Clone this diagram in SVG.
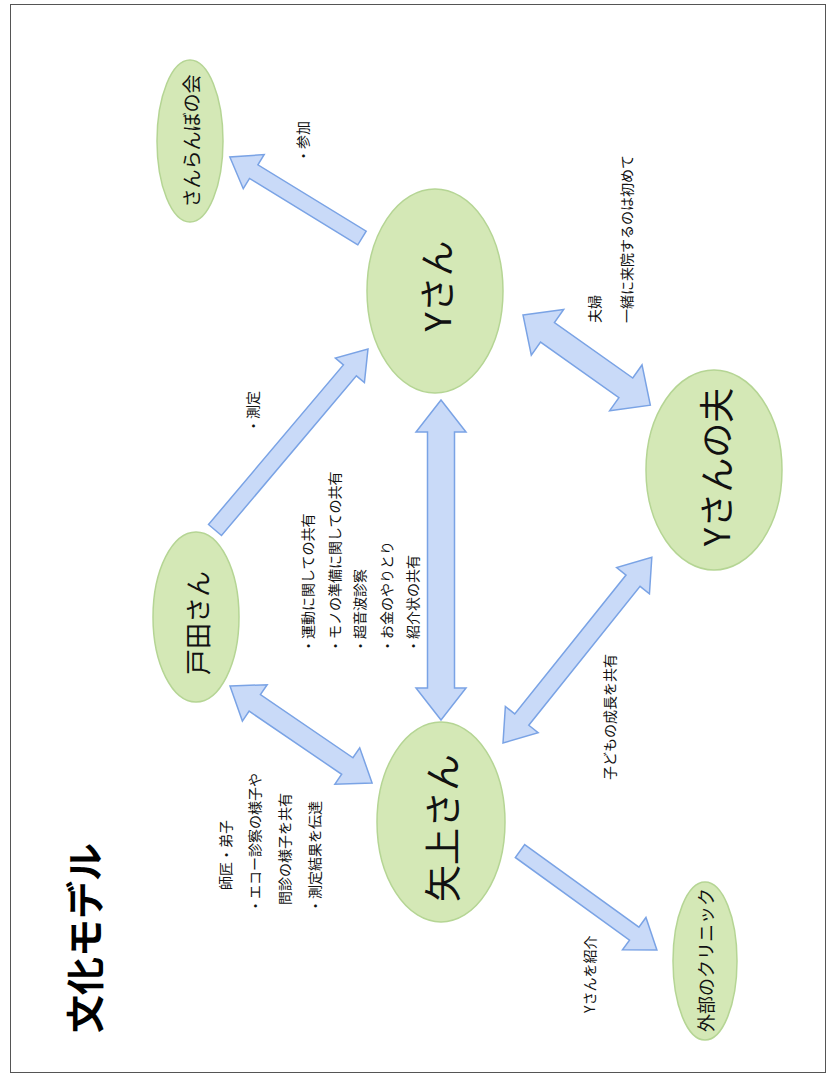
<svg xmlns="http://www.w3.org/2000/svg" width="830" height="1077" viewBox="0 0 830 1077">
  <style>
    .node ellipse { fill: #d4e8b6; stroke: #b5d594; stroke-width: 1.5; }
    .node text { font-family: "Noto Sans CJK JP", "Noto Sans", sans-serif; fill: #111; text-anchor: middle; dominant-baseline: central; }
    .arrow { fill: #c9daf8; stroke: #7aa3e5; stroke-width: 1.5; stroke-linejoin: miter; }
    .lbl { font-family: "Noto Sans CJK JP", "Noto Sans", sans-serif; font-size: 14px; fill: #111; }
    .title { font-family: "Noto Sans CJK JP", sans-serif; font-size: 38px; font-weight: bold; fill: #000; text-anchor: middle; dominant-baseline: central; }
  </style>

  <rect x="0" y="0" width="830" height="1077" fill="#ffffff"/>
  <rect x="10.5" y="4.5" width="815" height="1068" fill="none" stroke="#555" stroke-width="1"/>

  <!-- page title -->
  <text class="title" transform="translate(82,938) rotate(-90)">文化モデル</text>

  <!-- block arrows -->
  <g id="connectors">
    <!-- Yさん -> さんらんぼの会 -->
    <polygon class="arrow" transform="translate(362,238) rotate(211.5)" points="0,-8 127,-8 127,-20 155,0 127,20 127,8 0,8"/>
    <!-- 戸田さん -> Yさん -->
    <polygon class="arrow" transform="translate(215,530) rotate(-49.8)" points="0,-8.5 209,-8.5 209,-19 237,0 209,19 209,8.5 0,8.5"/>
    <!-- Yさん <-> 矢上さん -->
    <polygon class="arrow" transform="translate(441,400) rotate(90)" points="0,0 32,-25 32,-13.5 288,-13.5 288,-25 320,0 288,25 288,13.5 32,13.5 32,25"/>
    <!-- Yさん <-> Yさんの夫 -->
    <polygon class="arrow" transform="translate(523,315) rotate(35.3)" points="0,0 30,-28 30,-12 126,-12 126,-28 156,0 126,28 126,12 30,12 30,28"/>
    <!-- 矢上さん <-> Yさんの夫 -->
    <polygon class="arrow" transform="translate(503,743) rotate(-51.3)" points="0,0 30,-21 30,-9 208,-9 208,-21 238,0 208,21 208,9 30,9 30,21"/>
    <!-- 戸田さん <-> 矢上さん -->
    <polygon class="arrow" transform="translate(230,686) rotate(34.3)" points="0,0 30,-22 30,-10 142,-10 142,-22 172,0 142,22 142,10 30,10 30,22"/>
    <!-- 矢上さん -> 外部のクリニック -->
    <polygon class="arrow" transform="translate(520,851) rotate(35.9)" points="0,-8 141,-8 141,-20 169,0 141,20 141,8 0,8"/>
  </g>

  <!-- nodes -->
  <g id="node-sanranbo" class="node">
    <ellipse cx="190" cy="141" rx="33" ry="81"/>
    <text font-size="19" transform="translate(190,141) rotate(-90)">さんらんぼの会</text>
  </g>
  <g id="node-y" class="node">
    <ellipse cx="435" cy="291" rx="68" ry="102"/>
    <text font-size="36" transform="translate(435,286) rotate(-90)">Yさん</text>
  </g>
  <g id="node-husband" class="node">
    <ellipse cx="714" cy="470" rx="68" ry="100"/>
    <text font-size="35" transform="translate(714,467) rotate(-90)">Yさんの夫</text>
  </g>
  <g id="node-toda" class="node">
    <ellipse cx="196" cy="617" rx="43" ry="85"/>
    <text font-size="26" transform="translate(196,623) rotate(-90)">戸田さん</text>
  </g>
  <g id="node-yagami" class="node">
    <ellipse cx="441" cy="822" rx="64" ry="100"/>
    <text font-size="37" transform="translate(441,828) rotate(-90)">矢上さん</text>
  </g>
  <g id="node-clinic" class="node">
    <ellipse cx="705" cy="961" rx="32" ry="79"/>
    <text font-size="18" transform="translate(705,960) rotate(-90)">外部のクリニック</text>
  </g>

  <!-- edge labels -->
  <g id="labels">
    <text class="lbl" font-size="13" transform="translate(308,163) rotate(-90)">・参加</text>
    <text class="lbl" font-size="13" transform="translate(600,323) rotate(-90)">夫婦</text>
    <text class="lbl" transform="translate(632,323) rotate(-90)">一緒に来院するのは初めて</text>
    <text class="lbl" font-size="13" transform="translate(258,433) rotate(-90)">・測定</text>

    <text class="lbl" transform="translate(313,653) rotate(-90)">・運動に関しての共有</text>
    <text class="lbl" transform="translate(340,653) rotate(-90)">・モノの準備に関しての共有</text>
    <text class="lbl" transform="translate(365,653) rotate(-90)">・超音波診察</text>
    <text class="lbl" transform="translate(392,653) rotate(-90)">・お金のやりとり</text>
    <text class="lbl" transform="translate(418,653) rotate(-90)">・紹介状の共有</text>

    <text class="lbl" font-size="15" transform="translate(231,890) rotate(-90)">師匠・弟子</text>
    <text class="lbl" transform="translate(260,913) rotate(-90)">・エコー診察の様子や</text>
    <text class="lbl" transform="translate(290,905) rotate(-90)">問診の様子を共有</text>
    <text class="lbl" transform="translate(320,913) rotate(-90)">・測定結果を伝達</text>

    <text class="lbl" transform="translate(615,780) rotate(-90)">子どもの成長を共有</text>
    <text class="lbl" transform="translate(595,1013) rotate(-90)">Yさんを紹介</text>
  </g>
</svg>
